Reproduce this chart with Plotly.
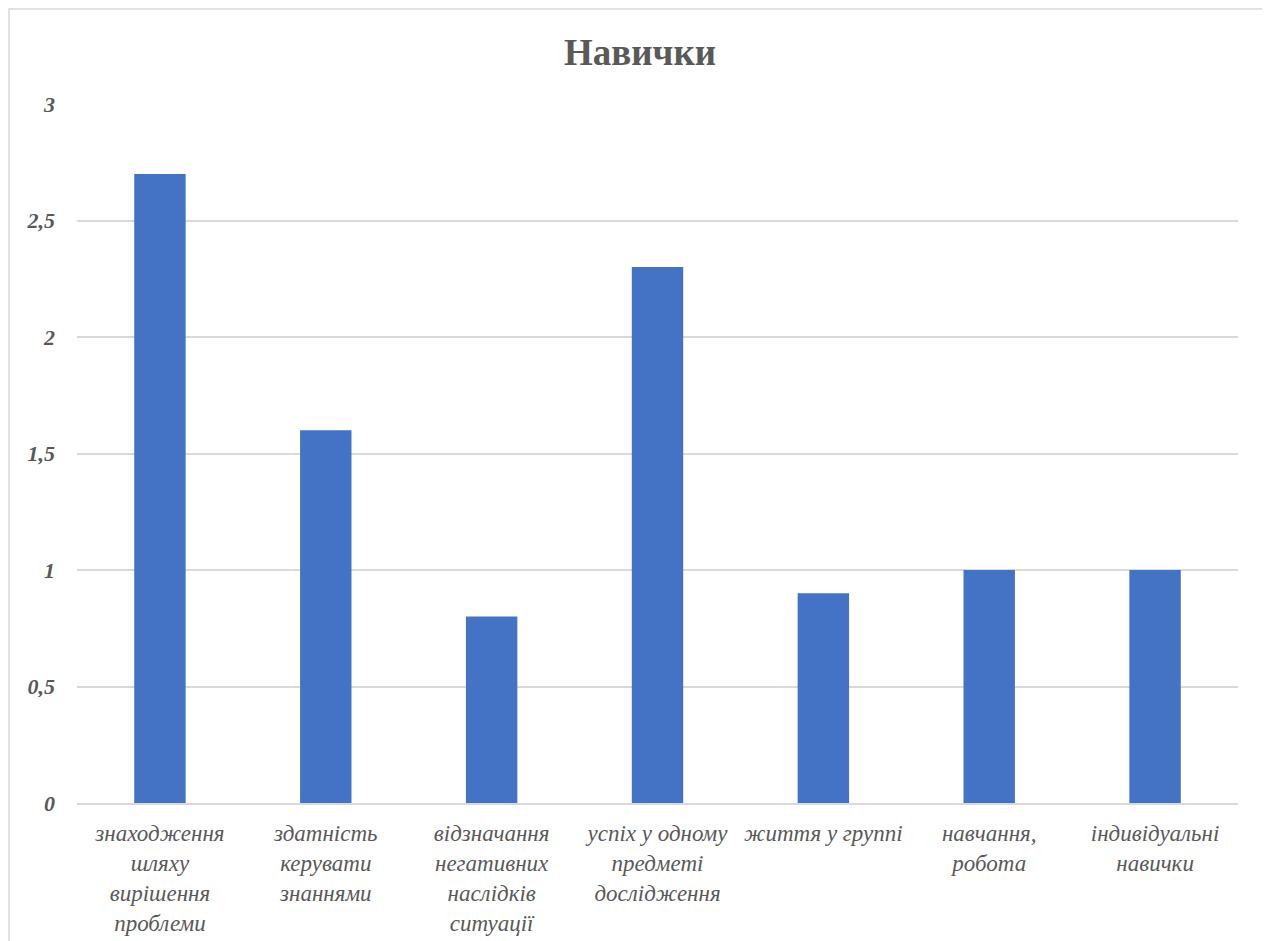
import plotly.graph_objects as go

categories = [
    "знаходження<br>шляху<br>вирішення<br>проблеми",
    "здатність<br>керувати<br>знаннями",
    "відзначання<br>негативних<br>наслідків<br>ситуації",
    "успіх у одному<br>предметі<br>дослідження",
    "життя у группі",
    "навчання,<br>робота",
    "індивідуальні<br>навички",
]
values = [2.7, 1.6, 0.8, 2.3, 0.9, 1.0, 1.0]
y_ticks = [0, 0.5, 1, 1.5, 2, 2.5, 3]
y_tick_labels = ["0", "0,5", "1", "1,5", "2", "2,5", "3"]

# figure sits at page offset (8, 8)
W, H = 1262, 933
L, R, T, B = 69, 32, 96, 138
pw, ph = W - L - R, H - T - B

def px_x(x):
    return (x - L) / pw

def px_y(y):
    return (H - B - y) / ph

fig = go.Figure(go.Bar(
    x=categories, y=values,
    marker=dict(color="#4472C4", line=dict(width=0)),
))

fig.update_layout(
    width=W, height=H,
    margin=dict(l=L, r=R, t=T, b=B, autoexpand=False),
    paper_bgcolor="white", plot_bgcolor="white",
    bargap=0.69,
    showlegend=False,
    title=dict(text="<b>Навички</b>", x=632 / W, xanchor="center", y=1 - 44 / H, yanchor="middle",
               font=dict(family="Liberation Serif", size=37, color="#595959")),
    font=dict(family="Liberation Serif", color="#595959"),
    shapes=[dict(type="rect", xref="paper", yref="paper",
                 x0=px_x(1), x1=px_x(1259), y0=px_y(945), y1=px_y(1),
                 line=dict(color="#D9D9D9", width=1.5), fillcolor="rgba(0,0,0,0)", layer="below")],
)
fig.update_yaxes(range=[0, 3], tickvals=y_ticks, ticktext=y_tick_labels, automargin=False,
                 showgrid=True, gridcolor="#D9D9D9", gridwidth=1.5, zeroline=False,
                 showline=False, ticks="", ticklabelstandoff=21,
                 tickfont=dict(family="Liberation Serif", size=22, color="#595959", style="italic", weight="bold"))
fig.update_xaxes(showline=True, linecolor="#D9D9D9", linewidth=1.5, ticks="", tickangle=0,
                 automargin=False, ticklabelstandoff=9,
                 tickfont=dict(family="Liberation Serif", size=23, color="#595959", style="italic"))

fig.write_html("out.html")
